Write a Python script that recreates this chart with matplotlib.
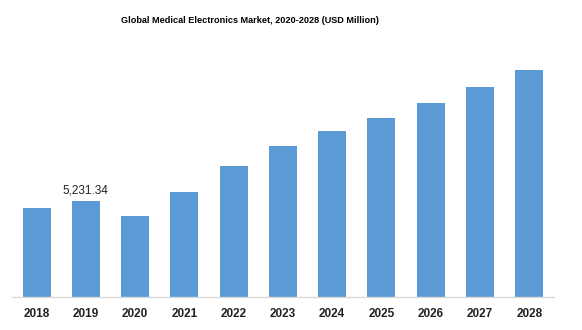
import matplotlib
matplotlib.use('Agg')
import matplotlib.pyplot as plt
import numpy as np

plt.rcParams['font.family'] = ['Liberation Sans', 'DejaVu Sans']

# values (USD Million)
years = ['2018', '2019', '2020', '2021', '2022', '2023', '2024', '2025', '2026', '2027', '2028']
market = [4850, 5231.34, 4414, 5722, 7138, 8228, 9046, 9754, 10571, 11443, 12370]
label_year = '2019'
label_text = '5,231.34'

bar_color = '#5B9BD5'

fig = plt.figure(figsize=(5.82, 3.30), dpi=100)
ax = fig.add_axes([0.0206, 0.1, 0.931, 0.779])

x = np.arange(len(years))
ax.bar(x, market, width=0.57, color=bar_color, zorder=2)

# data label on 2019 only
i = years.index(label_year)
ax.text(x[i], market[i] + 250, label_text, ha='center', va='bottom',
        fontsize=8.5, color='#222222')

ax.set_xlim(-0.5, len(years) - 0.5)
ax.set_ylim(0, 14000)
ax.set_xticks(x)
ax.set_xticklabels(years, fontsize=8.5, fontweight='bold', color='#222222')
ax.tick_params(axis='x', length=0, pad=8)
ax.set_yticks([])

for s in ['top', 'right', 'left']:
    ax.spines[s].set_visible(False)
ax.spines['bottom'].set_color('#D9D9D9')
ax.spines['bottom'].set_linewidth(1)

fig.text(0.430, 0.938, 'Global Medical Electronics Market, 2020-2028 (USD Million)',
         ha='center', va='center', fontsize=6.6, fontweight='bold')

fig.savefig('out.png', dpi=100)
